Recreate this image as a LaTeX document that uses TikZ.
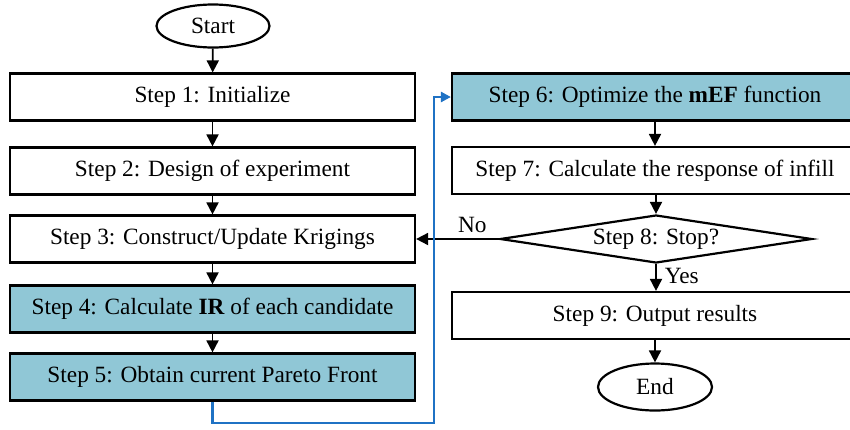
\documentclass[tikz,border=0pt]{standalone}
\usepackage{fontspec}
\setmainfont{Liberation Serif}
\usetikzlibrary{shapes.geometric,arrows.meta}
\definecolor{boxblue}{HTML}{90C7D6}
\definecolor{lineblue}{HTML}{1F72C4}
\begin{document}
\begin{tikzpicture}[x=1pt,y=-1pt,
  every node/.style={font=\fontsize{23.3}{27}\selectfont},
  stepbox/.style={draw=black,line width=2.2pt,rectangle,minimum width=405pt,minimum height=47pt,inner sep=0pt},
  hl/.style={fill=boxblue},
  term/.style={draw=black,line width=2.2pt,ellipse,minimum width=113pt,minimum height=43pt,inner sep=0pt},
  dec/.style={draw=black,line width=2.2pt,diamond,aspect=6.5,minimum width=312pt,minimum height=48pt,inner sep=0pt},
  flow/.style={draw=black,line width=1.8pt,-{Triangle[length=12pt,width=12pt]}},
  bflow/.style={draw=lineblue,line width=2.5pt,-{Triangle[length=10pt,width=10pt]}},
  lbl/.style={inner sep=0pt}
]
\useasboundingbox (0,0) rectangle (850,429);
\node[term] (start) at (213,26) {Start};
\node[stepbox] (s1) at (212.5,97) {Step 1: Initialize};
\node[stepbox] (s2) at (212.5,171) {Step 2: Design of experiment};
\node[stepbox] (s3) at (212.5,239) {Step 3: Construct/Update Krigings};
\node[stepbox,hl] (s4) at (212.5,309) {Step 4: Calculate \textbf{IR} of each candidate};
\node[stepbox,hl] (s5) at (212.5,377) {Step 5: Obtain current Pareto Front};
\node[stepbox,hl,minimum width=406pt] (s6) at (655,97) {Step 6: Optimize the \textbf{mEF} function};
\node[stepbox,minimum width=406pt] (s7) at (655,170.5) {Step 7: Calculate the response of infill};
\node[dec] (s8) at (656,239) {Step 8: Stop?};
\node[stepbox,minimum width=406pt] (s9) at (655,315.5) {Step 9: Output results};
\node[term,minimum width=114pt,minimum height=47pt] (end) at (655,387) {End};
\coordinate (b1) at (434,423);
\draw[flow] (start) -- (s1);
\draw[flow] (s1) -- (s2);
\draw[flow] (s2) -- (s3);
\draw[flow] (s3) -- (s4);
\draw[flow] (s4) -- (s5);
\draw[flow] (s6) -- (s7);
\draw[flow] (s7.south -| s8.north) -- (s8.north);
\draw[flow] (s8.south) -- (s8.south |- s9.north) node[lbl,pos=0.45,right=8pt] (yes) {Yes};
\draw[flow] (s9.south -| end.north) -- (end.north);
\draw[flow] (s8.west) -- (s3.east) node[lbl,pos=0.32,above=5pt] (no) {No};
\draw[bflow] (s5.south) |- (b1) |- (s6.west);
\end{tikzpicture}
\end{document}
